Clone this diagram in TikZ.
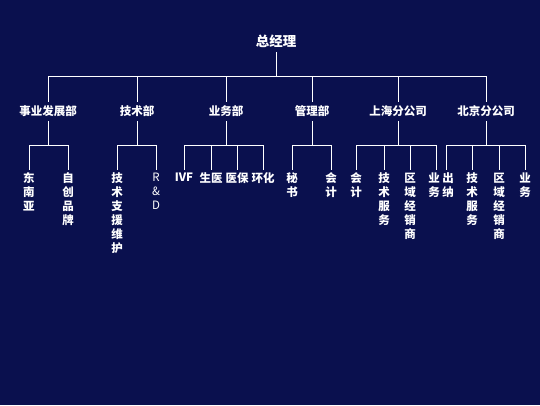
\documentclass[tikz,border=0pt]{standalone}
\usepackage{fontspec}
\setmainfont{Noto Sans CJK SC}
\usetikzlibrary{positioning}
\definecolor{navybg}{RGB}{10,16,78}

\begin{document}
\begin{tikzpicture}[
    x=1pt, y=-1pt,
    boss/.style={text=white, font=\bfseries\fontsize{13.5}{15}\selectfont, minimum height=22pt, inner sep=0pt},
    dept/.style={text=white, font=\bfseries\fontsize{11.5}{13}\selectfont, minimum height=19pt, inner sep=0pt},
    unit/.style={anchor=north, text=white, font=\bfseries\fontsize{11.5}{14}\selectfont, align=center, inner sep=2.5pt},
    link/.style={draw=white, line width=0.8pt}
]
\fill [navybg] (0,0) rectangle (540,405);

\node (gm) [boss] at (276,41) {总经理};

\node (d1) [dept] at (48,111.5) {事业发展部};
\node (d2) [dept] at (137,111.5) {技术部};
\node (d3) [dept] at (226,111.5) {业务部};
\node (d4) [dept] at (312,111.5) {管理部};
\node (d5) [dept] at (398,111.5) {上海分公司};
\node (d6) [dept] at (486,111.5) {北京分公司};

% units of each department
\node (u11) [unit] at (29,170) {东\\南\\亚};
\node (u12) [unit] at (68,170) {自\\创\\品\\牌};
\node (u21) [unit] at (117,170) {技\\术\\支\\援\\维\\护};
\node (u22) [unit, font=\fontsize{11.5}{14}\selectfont] at (156,170) {R\\\&\\D};
\node (u31) [unit] at (184,170) {IVF};
\node (u32) [unit] at (211,170) {生医};
\node (u33) [unit] at (237,170) {医保};
\node (u34) [unit] at (263,170) {环化};
\node (u41) [unit] at (292,170) {秘\\书};
\node (u42) [unit] at (331,170) {会\\计};
\node (u51) [unit] at (356,170) {会\\计};
\node (u52) [unit] at (384,170) {技\\术\\服\\务};
\node (u53) [unit] at (410,170) {区\\域\\经\\销\\商};
\node (u54) [unit] at (434,170) {业\\务};
\node (u61) [unit] at (448,170) {出\\纳};
\node (u62) [unit] at (472,170) {技\\术\\服\\务};
\node (u63) [unit] at (499,170) {区\\域\\经\\销\\商};
\node (u64) [unit] at (525,170) {业\\务};

\foreach \d in {d1,d2,d3,d4,d5,d6}
    \draw [link] (gm.south) -- ++(0,24) -| (\d.north);

\draw [link] (d1.south) -- ++(0,24) -| (u11.north);
\draw [link] (d1.south) -- ++(0,24) -| (u12.north);
\draw [link] (d2.south) -- ++(0,24) -| (u21.north);
\draw [link] (d2.south) -- ++(0,24) -| (u22.north);
\foreach \u in {u31,u32,u33,u34}
    \draw [link] (d3.south) -- ++(0,24) -| (\u.north);
\draw [link] (d4.south) -- ++(0,24) -| (u41.north);
\draw [link] (d4.south) -- ++(0,24) -| (u42.north);
\foreach \u in {u51,u52,u53}
    \draw [link] (d5.south) -- ++(0,24) -| (\u.north);
\draw [link] (d5.south) -- ++(0,24) -| (436,170);
\foreach \u in {u62,u63,u64}
    \draw [link] (d6.south) -- ++(0,24) -| (\u.north);
\draw [link] (d6.south) -- ++(0,24) -| (446,170);
\end{tikzpicture}
\end{document}
